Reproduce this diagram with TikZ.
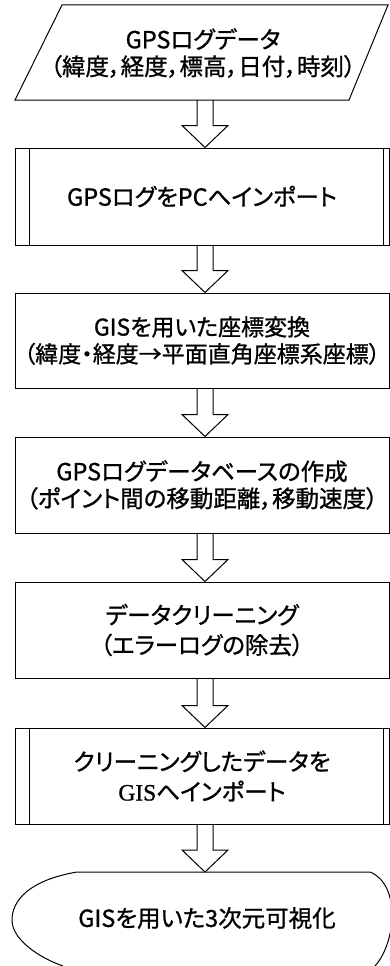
\documentclass[tikz,border=0pt]{standalone}
\usepackage{fontspec}
\setmainfont{Noto Sans CJK JP}[RawFeature={+palt}, FakeBold=1]
\newfontfamily\latinserif{Liberation Serif}[FakeBold=1]
\usetikzlibrary{calc}
\newcommand\hollowarrow[2]{%
  \draw[arrowline] ($(#1)+(-5,0)$) -- ($(#2)+(-5,-22)$) -- ($(#2)+(-20,-22)$)
    -- ($(#2)+(3,0)$) -- ($(#2)+(26,-22)$) -- ($(#2)+(11,-22)$) -- ($(#1)+(11,0)$);}
\newcommand\predeflines[1]{%
  \draw[boxline] ($(#1.north west)+(15,0)$) -- ($(#1.south west)+(15,0)$);
  \draw[boxline] ($(#1.north east)+(-6,0)$) -- ($(#1.south east)+(-6,0)$);}
\begin{document}
\begin{tikzpicture}[x=1pt,y=-1pt,
  boxline/.style={line width=1pt, draw=black},
  arrowline/.style={line width=1pt, draw=black, line join=miter},
  txt/.style={align=center, inner sep=0pt, font=\fontsize{23.5}{27}\selectfont},
  procbox/.style={draw, line width=1pt, minimum width=374pt, minimum height=#1,
    inner sep=0pt, align=center, font=\fontsize{23.5}{27}\selectfont},
]
\useasboundingbox (0,0) rectangle (390,966);
% input parallelogram
\draw[boxline] (62,5) -- (388,5) -- (349,100) -- (15,100) -- cycle;
\node[txt] (t1) at (203,53) {GPSログデータ\\（緯度，経度，標高，日付，時刻）};
\coordinate (pbot) at (202,100);
% boxes
\node[procbox=97pt] (b2) at (202,196.5) {GPSログをPCへインポート};
\predeflines{b2}
\node[procbox=95pt, font=\fontsize{23}{27}\selectfont] (b3) at (202,340.5) {GISを用いた座標変換\\（緯度・経度→平面直角座標系座標）};
\node[procbox=96pt] (b4) at (202,485) {GPSログデータベースの作成\\（ポイント間の移動距離，移動速度）};
\node[procbox=96pt, font=\fontsize{23.5}{30}\selectfont] (b5) at (202,630) {データクリーニング\\（エラーログの除去）};
\node[procbox=96pt, font=\fontsize{23.5}{30}\selectfont] (b6) at (202,776) {クリーニングしたデータを\\{\latinserif GIS}へインポート};
\predeflines{b6}
% terminal
\coordinate (termtop) at (202,872);
\draw[boxline] (63,966) .. controls (40,958) and (12,940) .. (12,920)
  .. controls (12,900) and (30,880) .. (77,872) -- (370,872)
  .. controls (385,878) and (392,895) .. (392,915)
  .. controls (392,935) and (385,955) .. (375,966);
\node[txt] (t7) at (207,918) {GISを用いた3次元可視化};
% arrows
\hollowarrow{pbot}{b2.north}
\hollowarrow{b2.south}{b3.north}
\hollowarrow{b3.south}{b4.north}
\hollowarrow{b4.south}{b5.north}
\hollowarrow{b5.south}{b6.north}
\hollowarrow{b6.south}{termtop}
\end{tikzpicture}
\end{document}
